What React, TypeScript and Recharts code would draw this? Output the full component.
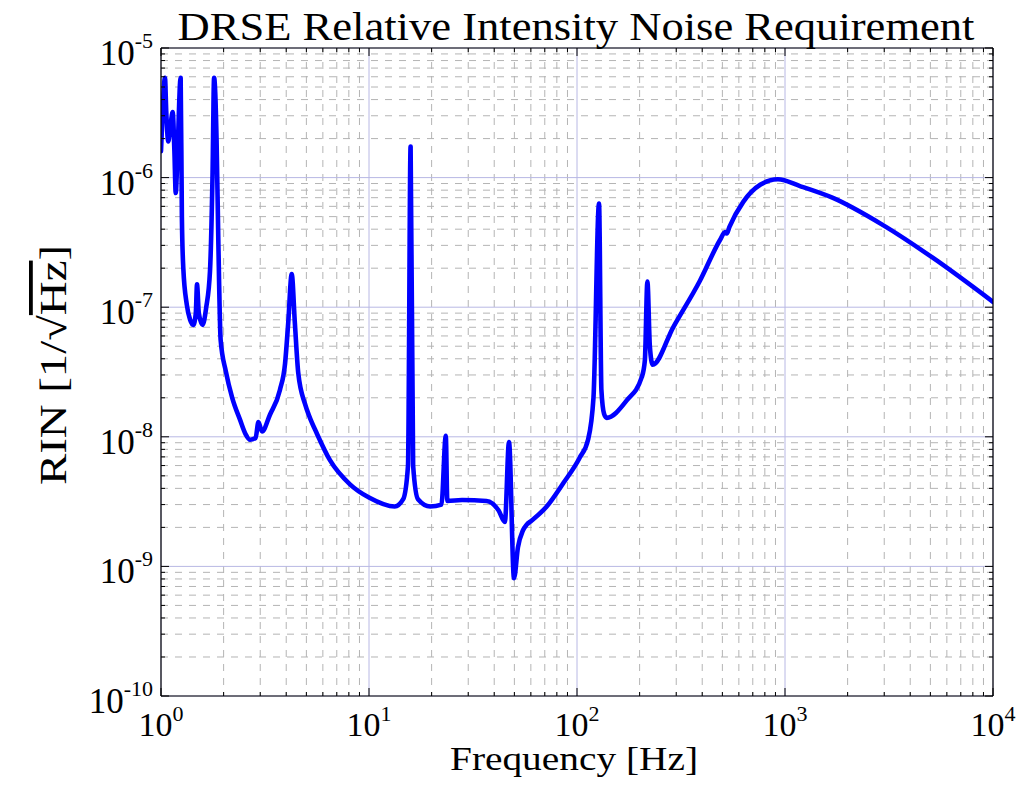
import { LineChart, Line, XAxis, YAxis, CartesianGrid } from "recharts"

// frequency axis [Hz] and RIN [1/sqrt(Hz)]
const freqHz = [
  1.0, 1.02, 1.045, 1.06, 1.084, 1.11, 1.138, 1.16, 1.177, 1.2, 1.243, 1.26, 1.28, 1.33, 1.38,
  1.43, 1.47, 1.49, 1.52, 1.585, 1.65, 1.72, 1.77, 1.8, 1.85, 1.886, 1.935, 2.05, 2.2, 2.4, 2.55,
  2.68, 2.85, 2.94, 3.06, 3.34, 3.73, 3.95, 4.09, 4.25, 4.4, 4.57, 4.92, 5.2, 5.6, 6.49, 8.1, 10,
  13.3, 14.6, 15.4, 15.85, 16.3, 17.2, 19.7, 22.3, 23.4, 23.8, 28, 36.7, 42, 45, 47.1, 49.8,
  52, 55, 57.3, 60.4, 71.5, 86, 103, 113, 120, 127.6, 131, 135, 139, 173, 205, 212, 218, 224,
  231, 290, 390, 487, 515, 525, 540, 630, 760, 925, 1180, 1700, 2960, 5150, 10000,
]

const rin = [
  1.6e-6, 3.5e-6, 5.9e-6, 3.2e-6, 1.9e-6, 2.5e-6, 3.2e-6, 1.6e-6, 7.6e-7, 1.5e-6, 5.9e-6, 5e-7,
  2.0e-7, 1.05e-7, 8e-8, 7.3e-8, 9e-8, 1.5e-7, 9e-8, 7.3e-8, 1.0e-7, 1.9e-7, 1.1e-6, 5.9e-6,
  1.95e-6, 3.3e-7, 5.6e-8, 3.2e-8, 2.0e-8, 1.35e-8, 1.05e-8, 9.5e-9, 9.8e-9, 1.3e-8, 1.1e-8,
  1.48e-8, 2.3e-8, 3.7e-8, 7.6e-8, 1.8e-7, 7.6e-8, 3.1e-8, 1.8e-8, 1.4e-8, 1.07e-8, 6.6e-9,
  4.3e-9, 3.4e-9, 2.9e-9, 3.3e-9, 6e-9, 1.74e-6, 6e-9, 3.3e-9, 2.9e-9, 3.0e-9, 1.02e-8, 3.2e-9,
  3.25e-9, 3.2e-9, 2.7e-9, 2.2e-9, 9.1e-9, 8.1e-10, 1.4e-9, 1.9e-9, 2.1e-9, 2.25e-9, 2.9e-9,
  4.4e-9, 6.9e-9, 9.5e-9, 2.0e-8, 6.3e-7, 2.3e-8, 1.5e-8, 1.4e-8, 1.9e-8, 2.9e-8, 3.9e-8,
  1.58e-7, 5e-8, 3.6e-8, 7.0e-8, 1.6e-7, 3.3e-7, 3.8e-7, 3.7e-7, 4.15e-7, 6.5e-7, 8.8e-7,
  9.7e-7, 8.6e-7, 6.97e-7, 4.3e-7, 2.4e-7, 1.1e-7,
]

const xMajor = [1, 10, 100, 1000, 10000]
const yMajor = [1e-10, 1e-9, 1e-8, 1e-7, 1e-6, 1e-5]
const mantissas = [2, 3, 4, 5, 6, 7, 8, 9]

const xMinor = xMajor.slice(0, -1).flatMap((d) => mantissas.map((m) => m * d))
const yMinor = yMajor.slice(0, -1).flatMap((d) => mantissas.map((m) => m * d))
const xTicks = [...xMajor, ...xMinor].sort((a, b) => a - b)
const yTicks = [...yMajor, ...yMinor].sort((a, b) => a - b)

const data = freqHz.map((f, i) => ({ f, rin: rin[i] }))

const FONT = "'Liberation Serif', 'DejaVu Serif', serif"

const isMajor = (v: number) => {
  const l = Math.log10(v)
  return Math.abs(l - Math.round(l)) < 1e-6
}

function LeftTick({ x, y, payload }: any) {
  const v = payload.value as number
  const major = isMajor(v)
  return (
    <g>
      <line x1={x} x2={x + (major ? 8 : 4)} y1={y} y2={y} stroke="#000" strokeWidth={1} />
      {major && (
        <text x={x - 8} y={y + 17} textAnchor="end" fontFamily={FONT} fontSize={35} fill="#000">
          10<tspan dy={-17} fontSize={22}>{Math.round(Math.log10(v))}</tspan>
        </text>
      )}
    </g>
  )
}

function BottomTick({ x, y, payload }: any) {
  const v = payload.value as number
  const major = isMajor(v)
  return (
    <g>
      <line x1={x} x2={x} y1={y} y2={y - (major ? 8 : 4)} stroke="#000" strokeWidth={1} />
      {major && (
        <text x={x} y={y + 40} textAnchor="middle" fontFamily={FONT} fontSize={34} fill="#000">
          10<tspan dy={-15} fontSize={22}>{Math.round(Math.log10(v))}</tspan>
        </text>
      )}
    </g>
  )
}

function TopTick({ x, y, payload }: any) {
  const major = isMajor(payload.value)
  return <line x1={x} x2={x} y1={y} y2={y + (major ? 8 : 4)} stroke="#000" strokeWidth={1} />
}

function RightTick({ x, y, payload }: any) {
  const major = isMajor(payload.value)
  return <line x1={x} x2={x - (major ? 8 : 4)} y1={y} y2={y} stroke="#000" strokeWidth={1} />
}

export default function App() {
  return (
    <div style={{ position: "absolute", left: 0, top: 0, width: 1026, height: 786, background: "#fff" }}>
      <LineChart width={1026} height={786} data={data} margin={{ top: 38, right: 23, left: 61, bottom: 30 }}>
        {/* minor grid dashed grey, major grid solid lavender */}
        <CartesianGrid horizontalValues={yMinor} verticalValues={xMinor} stroke="#b4b4b4" strokeDasharray="7 7" />
        <CartesianGrid horizontalValues={yMajor} verticalValues={xMajor} stroke="#b8b8e4" />
        <XAxis
          dataKey="f"
          type="number"
          scale="log"
          domain={[1, 10000]}
          allowDataOverflow
          ticks={xTicks}
          interval={0}
          height={60}
          tickSize={0}
          tickMargin={0}
          tickLine={false}
          axisLine={{ stroke: "#000", strokeWidth: 1.2 }}
          tick={<BottomTick />}
        />
        <XAxis
          xAxisId="top"
          orientation="top"
          dataKey="f"
          type="number"
          scale="log"
          domain={[1, 10000]}
          allowDataOverflow
          ticks={xTicks}
          interval={0}
          height={10}
          tickSize={0}
          tickMargin={0}
          tickLine={false}
          axisLine={{ stroke: "#000", strokeWidth: 1.2 }}
          tick={<TopTick />}
        />
        <YAxis
          type="number"
          scale="log"
          domain={[1e-10, 1e-5]}
          allowDataOverflow
          ticks={yTicks}
          interval={0}
          width={100}
          tickSize={0}
          tickMargin={0}
          tickLine={false}
          axisLine={{ stroke: "#000", strokeWidth: 1.2 }}
          tick={<LeftTick />}
        />
        <YAxis
          yAxisId="right"
          orientation="right"
          type="number"
          scale="log"
          domain={[1e-10, 1e-5]}
          allowDataOverflow
          ticks={yTicks}
          interval={0}
          width={10}
          tickSize={0}
          tickMargin={0}
          tickLine={false}
          axisLine={{ stroke: "#000", strokeWidth: 1.2 }}
          tick={<RightTick />}
        />
        <Line
          type="monotone"
          dataKey="rin"
          stroke="#0000ff"
          strokeWidth={4.6}
          strokeLinejoin="round"
          strokeLinecap="round"
          dot={false}
          activeDot={false}
          isAnimationActive={false}
        />
      </LineChart>
      <svg width={1026} height={786} style={{ position: "absolute", left: 0, top: 0, pointerEvents: "none" }}>
        <text x={576} y={40} textAnchor="middle" fontFamily={FONT} fontSize={40} textLength={797} lengthAdjust="spacingAndGlyphs">
          DRSE Relative Intensity Noise Requirement
        </text>
        <text x={574} y={770} textAnchor="middle" fontFamily={FONT} fontSize={33} textLength={248} lengthAdjust="spacingAndGlyphs">
          Frequency [Hz]
        </text>
        <text
          x={0}
          y={0}
          transform="translate(66 365) rotate(-90)"
          textAnchor="middle"
          fontFamily={FONT}
          fontSize={38}
          textLength={240}
          lengthAdjust="spacingAndGlyphs"
        >
          RIN [1/√<tspan style={{ textDecoration: "overline" }}>Hz</tspan>]
        </text>
      </svg>
    </div>
  )
}
